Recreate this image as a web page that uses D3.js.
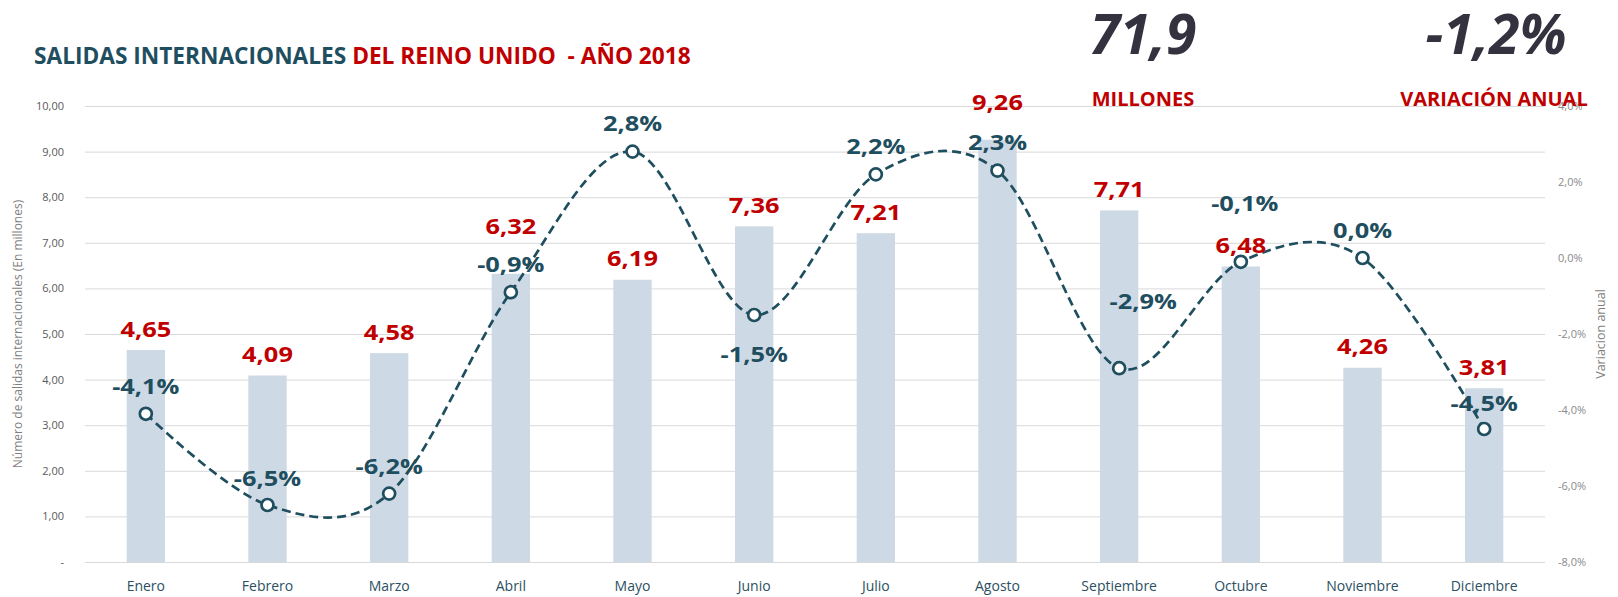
<!DOCTYPE html>
<html>
<head>
<meta charset="utf-8">
<script src="https://cdn.jsdelivr.net/npm/d3@7"></script>
<style>
  body { margin: 0; background: #ffffff; }
  svg { display: block; }
  text { font-family: "Open Sans", "Noto Sans", sans-serif; }
</style>
</head>
<body>
<svg id="chart" width="1618" height="597"></svg>
<script>
// ---------- data ----------
const months = ["Enero","Febrero","Marzo","Abril","Mayo","Junio","Julio","Agosto","Septiembre","Octubre","Noviembre","Diciembre"];
const salidas = [4.65, 4.09, 4.58, 6.32, 6.19, 7.36, 7.21, 9.26, 7.71, 6.48, 4.26, 3.81];
const variacion = [-4.1, -6.5, -6.2, -0.9, 2.8, -1.5, 2.2, 2.3, -2.9, -0.1, 0.0, -4.5];
const leftTickValues = [0, 1, 2, 3, 4, 5, 6, 7, 8, 9, 10];
const leftTickLabels = ["-", "1,00", "2,00", "3,00", "4,00", "5,00", "6,00", "7,00", "8,00", "9,00", "10,00"];
const rightTickValues = [-8, -6, -4, -2, 0, 2, 4];
const rightTickLabels = ["-8,0%", "-6,0%", "-4,0%", "-2,0%", "0,0%", "2,0%", "4,0%"];
const titleParts = ["SALIDAS INTERNACIONALES ", "DEL REINO UNIDO  - AÑO 2018"];
const totalText = "71,9";
const totalCaption = "MILLONES";
const variacionText = "-1,2%";
const variacionCaption = "VARIACIÓN ANUAL";
const leftAxisTitle = "Número de salidas internacionales (En millones)";
const rightAxisTitle = "Variacion anual";

// ---------- label placement (layout, px) ----------
const barLabelDy = [-21, -21, -21, -47, -21, -21, -21, -37, -21, -21, -21, -21];
const lineLabelDx = [0, 0, 0, 0, 0, 0, 0, 0, 24, 4, 0, 0];
const lineLabelDy = [-27, -27, -27, -28, -28, 39, -28, -28, -67, -58, -28, -26];

// ---------- layout ----------
const X0 = 85, X1 = 1545, YT = 106, YB = 562;
const teal = "#1f4e5f", red = "#c00000";

const loc = d3.formatLocale({decimal: ",", thousands: ".", grouping: [3], currency: ["", "€"], minus: "-"});
const fBar = loc.format(".2f");
const fPct = loc.format(".1f");

const svg = d3.select("#chart");

const x = d3.scaleBand().domain(months).range([X0, X1]).padding(0);
const yL = d3.scaleLinear().domain([0, 10]).range([YB, YT]);
const yR = d3.scaleLinear().domain([-8, 4]).range([YB, YT]);
const cx = m => x(m) + x.bandwidth() / 2;
const barW = x.bandwidth() * 0.315;

// gridlines
const grid = svg.append("g").attr("transform", `translate(${X0},0)`)
  .call(d3.axisLeft(yL).tickValues(leftTickValues).tickSize(-(X1 - X0)).tickFormat(""));
grid.select(".domain").remove();
grid.selectAll("line").attr("stroke", "#d9d9d9").attr("stroke-width", 1);

// left axis labels
const ax = svg.append("g").attr("transform", `translate(${X0},0)`)
  .call(d3.axisLeft(yL).tickValues(leftTickValues).tickSize(0).tickPadding(21)
    .tickFormat((d, i) => leftTickLabels[i]));
ax.select(".domain").remove();
ax.selectAll("text").attr("font-size", 11).attr("fill", "#595959")
  .style("font-family", '"Open Sans", sans-serif');

// right axis labels
const axr = svg.append("g").attr("transform", `translate(${X1},0)`)
  .call(d3.axisRight(yR).tickValues(rightTickValues).tickSize(0).tickPadding(13)
    .tickFormat((d, i) => rightTickLabels[i]));
axr.select(".domain").remove();
axr.selectAll("text").attr("font-size", 11).attr("fill", "#8a8a8a")
  .style("font-family", '"Open Sans", sans-serif');

// x axis labels
const axb = svg.append("g").attr("transform", `translate(0,${YB})`)
  .call(d3.axisBottom(x).tickSize(0).tickPadding(19));
axb.select(".domain").remove();
axb.selectAll("text").attr("font-size", 14).attr("fill", "#2b5062")
  .style("font-family", '"Open Sans", sans-serif');

// axis titles
svg.append("text")
  .attr("transform", `translate(22,334) rotate(-90)`)
  .attr("text-anchor", "middle").attr("font-size", 12).attr("fill", "#7f7f7f")
  .text(leftAxisTitle);
svg.append("text")
  .attr("transform", `translate(1605,334) rotate(-90)`)
  .attr("text-anchor", "middle").attr("font-size", 12.5).attr("fill", "#7f7f7f")
  .text(rightAxisTitle);

// bars
svg.append("g").selectAll("rect").data(salidas).join("rect")
  .attr("x", (d, i) => cx(months[i]) - barW / 2)
  .attr("width", barW)
  .attr("y", d => yL(d))
  .attr("height", d => YB - yL(d))
  .attr("fill", "#cdd9e5");

// line
const line = d3.line()
  .x((d, i) => cx(months[i]))
  .y(d => yR(d))
  .curve(d3.curveCardinal.tension(0));
svg.append("path").datum(variacion)
  .attr("d", line)
  .attr("fill", "none")
  .attr("stroke", teal)
  .attr("stroke-width", 2.7)
  .attr("stroke-dasharray", "9,5");

svg.append("g").selectAll("circle").data(variacion).join("circle")
  .attr("cx", (d, i) => cx(months[i]))
  .attr("cy", d => yR(d))
  .attr("r", 6)
  .attr("fill", "#ffffff")
  .attr("stroke", teal)
  .attr("stroke-width", 2.7);

// bar labels
svg.append("g").selectAll("text").data(salidas).join("text")
  .attr("transform", (d, i) => `translate(${cx(months[i])},${yL(d) + barLabelDy[i]}) scale(1.21,1)`)
  .attr("text-anchor", "middle").attr("dy", "0.36em")
  .attr("font-size", 21).attr("font-weight", 700).attr("fill", red)
  .text(d => fBar(d));

// line labels
svg.append("g").selectAll("text").data(variacion).join("text")
  .attr("transform", (d, i) => `translate(${cx(months[i]) + lineLabelDx[i]},${yR(d) + lineLabelDy[i]}) scale(1.21,1)`)
  .attr("text-anchor", "middle").attr("dy", "0.36em")
  .attr("font-size", 21).attr("font-weight", 700).attr("fill", teal)
  .text(d => fPct(d) + "%");

// title
const tg = svg.append("g");
const tt = tg.append("text").attr("font-size", 24).attr("font-weight", 700);
tt.append("tspan").attr("fill", teal).text(titleParts[0]);
tt.append("tspan").attr("fill", red).style("white-space", "pre").text(titleParts[1]);
const tw = tt.node().getComputedTextLength();
tg.attr("transform", `translate(34,64) scale(${657 / tw},1)`);

// KPI block
svg.append("text").attr("x", 1143).attr("y", 54).attr("text-anchor", "middle")
  .attr("font-size", 55).attr("font-weight", 700).attr("font-style", "italic")
  .attr("fill", "#34323f").text(totalText);
svg.append("text").attr("x", 1143).attr("y", 106).attr("text-anchor", "middle")
  .attr("font-size", 20).attr("font-weight", 700).attr("fill", red).text(totalCaption);
svg.append("text").attr("x", 1496).attr("y", 54).attr("text-anchor", "middle")
  .attr("font-size", 55).attr("font-weight", 700).attr("font-style", "italic")
  .attr("fill", "#34323f").text(variacionText);
svg.append("text").attr("x", 1494).attr("y", 106).attr("text-anchor", "middle")
  .attr("font-size", 20).attr("font-weight", 700).attr("fill", red).text(variacionCaption);
</script>
</body>
</html>
